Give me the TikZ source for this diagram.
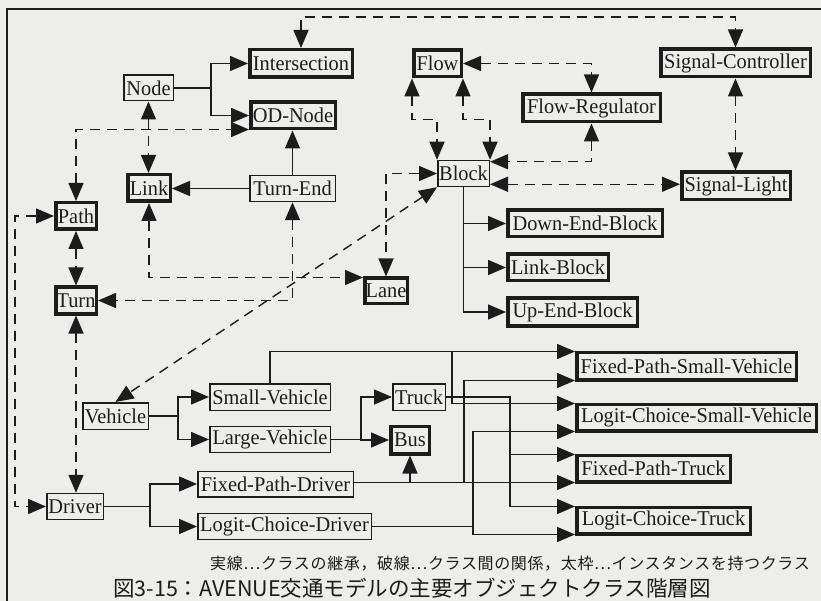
\documentclass[tikz,border=0pt]{standalone}
\usepackage{fontspec}
\setmainfont[FakeStretch=0.97]{Liberation Serif}
\newfontfamily\jpfont{Noto Sans CJK JP}
\newfontfamily\jplegend[LetterSpace=4]{Noto Sans CJK JP}
\usetikzlibrary{arrows.meta,calc}
\definecolor{ink}{HTML}{1C1C1C}
\definecolor{bg}{HTML}{EDEDEB}
\begin{document}
\begin{tikzpicture}[x=1pt,y=-1pt,
  >={Triangle[length=18pt,width=15pt]},
  box/.style={draw=ink,fill=bg,text=ink,inner sep=0pt,line width=1.5pt,font=\fontsize{21}{24}\selectfont},
  tbox/.style={box,line width=3.5pt},
  sz/.style 2 args={minimum width=#1,minimum height=#2},
  wire/.style={draw=ink,line width=1.4pt},
  inh/.style={wire,->},
  rel/.style={wire,dash pattern=on 10pt off 7pt,<->}]
\useasboundingbox (0,0) rectangle (821,601);
\clip (0,0) rectangle (821,601);
\fill[bg] (0,0) rectangle (821,601);
\coordinate (fTL) at (7,9);
\draw[ink,line width=1.5pt] (821,9) -- (fTL) -- (7,601);

% thick boxes (classes with instances)
\node[tbox,sz={102.5}{27.5}] (Intersection) at (301,63.5) {Intersection};
\node[tbox,sz={84.5}{26.5}] (ODNode) at (293,115.5) {OD-Node};
\node[tbox,sz={42.5}{26.5}] (Link) at (149,188) {Link};
\node[tbox,sz={40.5}{26.5}] (Path) at (76,216) {Path};
\node[tbox,sz={40.5}{26.5}] (Turn) at (76,300.5) {Turn};
\node[tbox,sz={42.5}{25.5}] (Lane) at (386,291) {Lane};
\node[tbox,sz={47.5}{26.5}] (Flow) at (437.5,63.5) {Flow};
\node[tbox,sz={149.5}{27.5}] (SigCtrl) at (735.5,63) {Signal-Controller};
\node[tbox,sz={137.5}{27.5}] (FlowReg) at (591.5,108) {Flow-Regulator};
\node[tbox,sz={108.5}{27.5}] (SigLight) at (736,186) {Signal-Light};
\node[tbox,sz={154.5}{26.5}] (DownEnd) at (585,223.5) {Down-End-Block};
\node[tbox,sz={100.5}{26.5}] (LinkBlock) at (558,267.5) {Link-Block};
\node[tbox,sz={129.5}{27.5}] (UpEnd) at (572.5,312) {Up-End-Block};
\node[tbox,sz={38.5}{27.5}] (Bus) at (410,440) {Bus};
\node[tbox,sz={219.5}{27.5}] (FPSV) at (686.5,366) {Fixed-Path-Small-Vehicle};
\node[tbox,sz={239.5}{26.5}] (LCSV) at (696.5,417.5) {Logit-Choice-Small-Vehicle};
\node[tbox,sz={153.5}{26.5}] (FPT) at (653.5,468.5) {Fixed-Path-Truck};
\node[tbox,sz={173.5}{26.5}] (LCT) at (663.5,520.5) {Logit-Choice-Truck};
% thin boxes
\node[box,sz={49.5}{25.5}] (Node) at (148.5,88) {Node};
\node[box,sz={85.5}{26}] (TurnEnd) at (292.5,188.5) {Turn-End};
\node[box,sz={51.5}{26}] (Block) at (463.5,173.5) {Block};
\node[box,sz={65.5}{26.5}] (Vehicle) at (115.5,416) {Vehicle};
\node[box,sz={120.5}{26.5}] (SmallV) at (270,397) {Small-Vehicle};
\node[box,sz={120.5}{26}] (LargeV) at (270,439.5) {Large-Vehicle};
\node[box,sz={52.5}{26.5}] (Truck) at (419,397) {Truck};
\node[box,sz={155.5}{25.5}] (FPD) at (275.5,484) {Fixed-Path-Driver};
\node[box,sz={173.5}{26}] (LCD) at (284.5,526.5) {Logit-Choice-Driver};
\node[box,sz={56.5}{26}] (Driver) at (75,506.5) {Driver};

% arrow targets near box corners
\coordinate (odB) at ($(ODNode.south west)+(0,-1)$);
\coordinate (laneA) at ($(Lane.north west)+(0,1)$);
\coordinate (blkA) at ($(Block.north east)+(0,2)$);
\coordinate (blkB) at ($(Block.south east)+(0,-3)$);
\coordinate (fpsvA) at ($(FPSV.north west)+(0,1)$);
\coordinate (fpsvB) at ($(FPSV.south west)+(0,-1)$);
\coordinate (lcsvA) at ($(LCSV.north west)+(0,1)$);
\coordinate (lcsvB) at ($(LCSV.south west)+(0,-1)$);
\coordinate (fptA) at ($(FPT.north west)+(0,1)$);
\coordinate (fptB) at ($(FPT.south west)+(0,-1)$);
\coordinate (lctA) at ($(LCT.north west)+(0,1)$);
\coordinate (lctB) at ($(LCT.south west)+(0,-1)$);
\coordinate (xS) at (452,0);
\coordinate (xF) at (464,0);
\coordinate (xL) at (473,0);
\coordinate (xT) at (510,0);

% inheritance (solid)
\draw[wire] (Node.east) -- ++(37,0) coordinate (nj);
\draw[inh] (nj) |- (Intersection.west);
\draw[inh] (nj) |- (ODNode.west);
\draw[inh] (TurnEnd.north) -- (TurnEnd.north |- ODNode.south);
\draw[inh] (TurnEnd.west) -- (TurnEnd.west -| Link.east);
\draw[inh] (Block.south) |- (UpEnd.west);
\draw[inh] (Block.south |- DownEnd.west) -- (DownEnd.west);
\draw[inh] (Block.south |- LinkBlock.west) -- (LinkBlock.west);
\draw[wire] (Vehicle.east) -- ++(29,0) coordinate (vj);
\draw[inh] (vj) |- (SmallV.west);
\draw[inh] (vj) |- (LargeV.west);
\draw[wire] (LargeV.east) -- ++(30,0) coordinate (lj);
\draw[inh] (lj) |- (Truck.west);
\draw[inh] (lj) |- (Bus.west);
\draw[wire] (Driver.east) -- ++(46,0) coordinate (dj);
\draw[inh] (dj) |- (FPD.west);
\draw[inh] (dj) |- (LCD.west);
\draw[inh] (SmallV.north) |- (fpsvA);
\draw[inh] (xS |- fpsvA) |- (lcsvA);
\draw[inh] (Truck.east) -| (xT |- lctA) -- (lctA);
\draw[inh] (xT |- fptA) -- (fptA);
\draw[inh] (FPD.east |- fptB) -- (fptB);
\draw[inh] (xF |- fptB) |- (fpsvB);
\draw[inh] (Bus.south |- fptB) -- (Bus.south);
\draw[inh] (LCD.east) -| (xL |- lctB) -- (lctB);
\draw[inh] (xL |- LCD.east) |- (lcsvB);

% relations (dashed)
\draw[rel] (Intersection.north) -- ++(0,-31) -| (SigCtrl.north);
\draw[rel] (Node.south) -- (Node.south |- Link.north);
\draw[rel] (Path.north) |- (odB);
\draw[rel] (Path.south) -- (Turn.north);
\draw[rel] (Path.west) -- ++(-39,0) |- (Driver.west);
\draw[rel] (Turn.south) -- (Turn.south |- Driver.north);
\draw[rel] (Link.south) |- (laneA);
\draw[rel] (TurnEnd.south) |- (Turn.east);
\draw[rel] (Block.west) -| (Lane.north);
\draw[rel] (Block.south west) -- (Vehicle.north);
\draw[rel] (Flow.south west) -- ++(0,41) -| (Block.north west);
\draw[rel] (Flow.south east) -- ++(0,41) -| (Block.north east);
\draw[rel] (Flow.east) -| (FlowReg.north);
\draw[rel] (FlowReg.south) |- (blkA);
\draw[rel] (blkB) -- (blkB -| SigLight.west);
\draw[rel] (SigCtrl.south) -- (SigCtrl.south |- SigLight.north);

% legend and caption
\node[anchor=east,inner sep=0pt,text=ink,font=\jplegend\fontsize{16}{18}\selectfont] (legend) at (810,564) {実線…クラスの継承，破線…クラス間の関係，太枠…インスタンスを持つクラス};
\node[anchor=west,inner sep=0pt,text=ink,font=\jpfont\fontsize{21.5}{24}\selectfont] (caption) at (113,588) {図3-15：AVENUE交通モデルの主要オブジェクトクラス階層図};
\end{tikzpicture}
\end{document}
